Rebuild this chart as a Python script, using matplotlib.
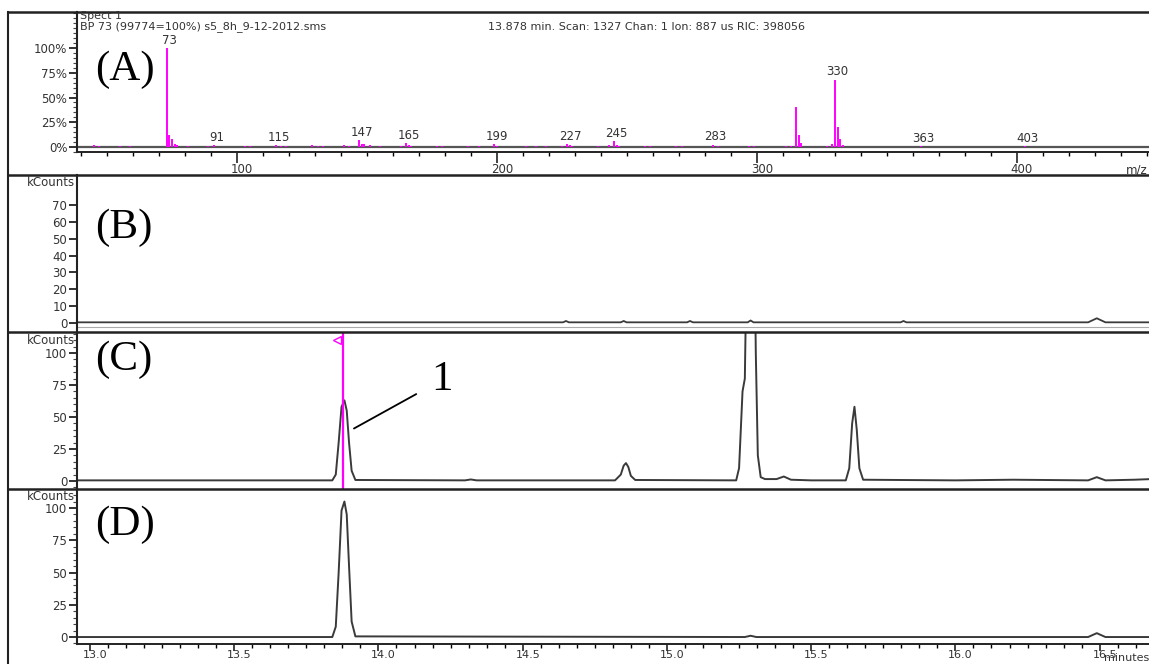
import matplotlib
matplotlib.use("Agg")
import matplotlib.pyplot as plt
from matplotlib.lines import Line2D
from matplotlib.ticker import MultipleLocator
from matplotlib.transforms import ScaledTranslation

W, H = 1149, 664

# (A) mass spectrum, m/z and relative intensity (%)
mz = [45, 47, 55, 59, 73, 74, 75, 76, 77, 81, 89, 91, 103, 105, 115, 117, 119,
      129, 131, 133, 141, 143, 147, 148, 149, 151, 155, 163, 165, 166, 167,
      177, 179, 189, 193, 199, 200, 211, 215, 219, 225, 227, 228, 229, 239,
      243, 245, 246, 247, 257, 259, 269, 271, 283, 285, 297, 299, 311, 313,
      315, 316, 317, 327, 329, 330, 331, 332, 333, 363, 403]
rel = [2, 1.5, 1, 1.5, 100, 12, 8, 3, 2, 1, 1, 2, 1.5, 1, 2, 1, 1.5,
       2.5, 1.5, 1.5, 2, 1.5, 7, 3, 3, 2, 1.5, 1, 4, 2.5, 1,
       1, 1.5, 1, 1.5, 3, 1.5, 1, 1.5, 1.5, 1.5, 3, 2, 1, 1,
       2, 6, 2, 1, 1.5, 1, 1, 1, 2.5, 1, 1, 1, 1, 1.5,
       40, 12, 4, 1, 3, 68, 20, 8, 2, 1, 1]
mz_labels = [73, 91, 115, 147, 165, 199, 227, 245, 283, 330, 363, 403]

# (B) trace, minutes / kCounts
t_b = [12.96, 14.64, 14.65, 14.66, 14.84, 14.85, 14.86, 15.07, 15.08, 15.09,
       15.28, 15.29, 15.30, 15.81, 15.82, 15.83, 16.46, 16.49, 16.52, 16.68]
y_b = [0.4, 0.4, 1.2, 0.4, 0.4, 1.2, 0.4, 0.4, 1.2, 0.4,
       0.4, 1.5, 0.4, 0.4, 1.2, 0.4, 0.4, 2.8, 0.4, 0.4]
t_b2 = [12.96, 16.68]
y_b2 = [-2.6, -2.6]

# (C) trace
t_c = [12.96, 13.84, 13.852, 13.862, 13.872, 13.882, 13.89, 13.898, 13.907, 13.92,
       14.30, 14.32, 14.34, 14.82, 14.84, 14.85, 14.858, 14.866, 14.875, 14.89,
       15.24, 15.25, 15.262, 15.27, 15.278, 15.303, 15.308, 15.315, 15.325, 15.34,
       15.38, 15.405, 15.43, 15.5, 15.62, 15.632, 15.642, 15.65, 15.658, 15.667,
       15.68, 15.8, 16.0, 16.2, 16.46, 16.49, 16.52, 16.62, 16.68]
y_c = [0.5, 0.5, 5, 30, 58, 63, 55, 30, 8, 0.8,
       0.5, 1.2, 0.5, 0.5, 5, 12, 14, 11, 4, 0.8,
       0.5, 10, 70, 80, 200, 200, 100, 20, 3, 1.5,
       1.5, 3.5, 1, 0.5, 0.5, 10, 45, 58, 40, 10,
       1, 0.8, 0.5, 1, 0.5, 3, 0.5, 1, 1.5]

# (D) trace
t_d = [12.96, 13.84, 13.852, 13.862, 13.872, 13.882, 13.89, 13.898, 13.907, 13.92,
       15.27, 15.29, 15.31, 16.46, 16.49, 16.52, 16.68]
y_d = [0, 0, 8, 50, 98, 105, 95, 55, 12, 0.5,
       0, 1, 0, 0, 3, 0, 0]

scan_time = 13.878
t_ticks = [13.0, 13.5, 14.0, 14.5, 15.0, 15.5, 16.0, 16.5]
t_labels = ["13.0", "13.5", "14.0", "14.5", "15.0", "15.5", "16.0", "16.5"]

fig = plt.figure(figsize=(W / 100, H / 100), dpi=100)


def box(top, bottom, left=77, right=1149):
    return [left / W, 1 - bottom / H, (right - left) / W, (bottom - top) / H]


txt = "#333333"
line_c = "#3a3a3a"
mag = "#ff00ff"
fs = 8.5
small = dict(fontsize=fs, color=txt, family="DejaVu Sans")
head = dict(fontsize=8, color=txt, family="DejaVu Sans")
serif = ["Liberation Serif", "DejaVu Serif"]
shift = ScaledTranslation(5 / 100, 0, fig.dpi_scale_trans)

ax_a = fig.add_axes(box(12, 152))
ax_b = fig.add_axes(box(175, 332))
ax_c = fig.add_axes(box(332, 489))
ax_d = fig.add_axes(box(489, 644))

for ax in (ax_a, ax_b, ax_c, ax_d):
    ax.set_facecolor("none")
    for s in ("top", "right", "bottom"):
        ax.spines[s].set_visible(False)
    ax.spines["left"].set_color("#222222")
    ax.spines["left"].set_linewidth(1.5)
    ax.tick_params(axis="y", which="major", direction="out", length=6,
                   width=1.3, color="#222222", labelsize=fs, labelcolor=txt,
                   pad=1, right=True)
    ax.tick_params(axis="y", which="minor", direction="out", length=3,
                   width=0.8, color="#444444", right=False)

# ---- (A) spectrum
ax_a.vlines(mz, 0, rel, color=mag, lw=1.4)
ax_a.axhline(0, color="#555555", lw=1.6, zorder=0)
ax_a.set_xlim(38.5, 450.8)
ax_a.set_ylim(-5.05, 136.4)
ax_a.spines["bottom"].set_visible(True)
ax_a.spines["bottom"].set_color("#222222")
ax_a.spines["bottom"].set_linewidth(1.4)
ax_a.set_yticks([0, 25, 50, 75, 100])
ax_a.set_yticklabels(["0%", "25%", "50%", "75%", "100%"])
ax_a.yaxis.set_minor_locator(MultipleLocator(5))
ax_a.set_xticks([100, 200, 300, 400])
ax_a.set_xticklabels(["100", "200", "300", "400"])
ax_a.xaxis.set_minor_locator(MultipleLocator(10))
ax_a.tick_params(axis="x", which="major", direction="out", length=8, width=1.2,
                 color="#222222", labelsize=fs, labelcolor=txt, pad=0)
ax_a.tick_params(axis="x", which="minor", direction="out", length=3, width=1)
for lab in ax_a.get_xticklabels():
    lab.set_transform(lab.get_transform() + shift)
for lab in mz_labels:
    h = rel[mz.index(lab)]
    ax_a.annotate(str(lab), (lab, h), xytext=(2, 1), textcoords="offset points",
                  ha="center", va="bottom", **small)
fig.text(80 / W, 1 - 16 / H, "Spect 1", va="center", **head)
fig.text(80 / W, 1 - 27 / H, "BP 73 (99774=100%) s5_8h_9-12-2012.sms",
         va="center", **head)
fig.text(488 / W, 1 - 27 / H,
         "13.878 min. Scan: 1327 Chan: 1 Ion: 887 us RIC: 398056",
         va="center", **head)
fig.text(1148 / W, 1 - 170 / H, "m/z", ha="right", va="center", **small)

# ---- (B)
ax_b.plot(t_b2, y_b2, color="#aaaaaa", lw=0.8)
ax_b.plot(t_b, y_b, color=line_c, lw=1.3)
ax_b.set_ylim(-5.34, 87.8)
ax_b.set_yticks([0, 10, 20, 30, 40, 50, 60, 70])

# ---- (C)
ax_c.plot(t_c, y_c, color=line_c, lw=1.4)
ax_c.axvline(scan_time, color=mag, lw=1.6)
ax_c.plot([scan_time - 0.02], [110], marker="<", mfc="white", mec=mag,
          ms=6, mew=1)
ax_c.set_ylim(-6.25, 116.4)
ax_c.set_yticks([0, 25, 50, 75, 100])
ax_c.yaxis.set_minor_locator(MultipleLocator(5))
ax_c.annotate("1", xy=(13.915, 41), xytext=(14.22, 79), ha="center", va="center",
              fontsize=31, family=serif, color="black",
              arrowprops=dict(arrowstyle="-", color="black", lw=1.3,
                              shrinkA=10, shrinkB=0))

# ---- (D)
ax_d.plot(t_d, y_d, color=line_c, lw=1.4)
ax_d.set_ylim(-5.4, 114.7)
ax_d.set_yticks([0, 25, 50, 75, 100])
ax_d.yaxis.set_minor_locator(MultipleLocator(5))
ax_d.spines["bottom"].set_visible(True)
ax_d.spines["bottom"].set_color("#222222")
ax_d.spines["bottom"].set_linewidth(1.4)
ax_d.set_xticks(t_ticks)
ax_d.set_xticklabels(t_labels)
ax_d.xaxis.set_minor_locator(MultipleLocator(0.0625))
ax_d.tick_params(axis="x", which="major", direction="out", length=5, width=1.2,
                 color="#222222", labelsize=8, labelcolor=txt, pad=-1)
ax_d.tick_params(axis="x", which="minor", direction="out", length=3, width=1)
for lab in ax_d.get_xticklabels():
    lab.set_transform(lab.get_transform() + shift)
fig.text(1149 / W, 1 - 658 / H, "minutes", ha="right", va="center", **head)

for ax in (ax_b, ax_c, ax_d):
    ax.set_xlim(12.955, 16.671)
for ax in (ax_b, ax_c):
    ax.set_xticks([])

for top in (183, 341, 497):
    fig.text(75 / W, 1 - top / H, "kCounts", ha="right", va="center", **small)

for lab, yc in (("(A)", 70), ("(B)", 228), ("(C)", 360), ("(D)", 525)):
    fig.text(95 / W, 1 - yc / H, lab, ha="left", va="center", fontsize=31,
             family=serif, color="black")

# frame and panel separators
for y in (12, 175, 332, 489):
    fig.add_artist(Line2D([8 / W, 1], [1 - y / H, 1 - y / H], color="#222222",
                          lw=1.8, transform=fig.transFigure))
fig.add_artist(Line2D([8 / W, 8 / W], [1 - 12 / H, 0], color="#222222",
                      lw=1.5, transform=fig.transFigure))

fig.savefig("out.png", dpi=100)
